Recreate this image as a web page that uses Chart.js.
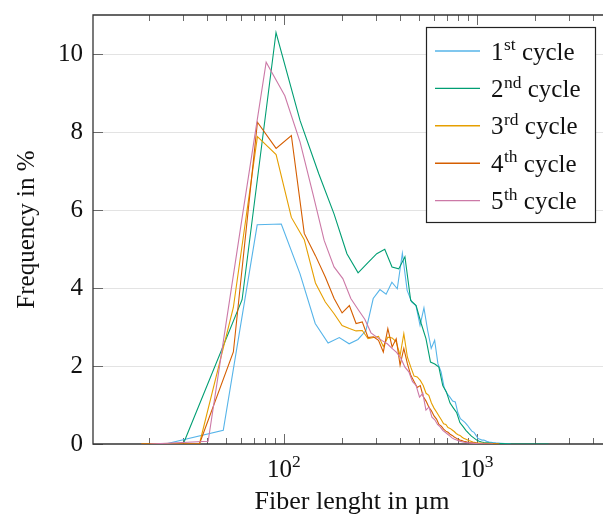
<!DOCTYPE html>
<html><head><meta charset="utf-8">
<script src="https://cdn.jsdelivr.net/npm/chart.js@4.4.1/dist/chart.umd.min.js"></script>
<style>html,body{margin:0;padding:0;background:#fff;overflow:hidden;width:603px;height:518px}</style>
</head><body>
<canvas id="c" width="611" height="518"></canvas>
<script>
// ---- data (fiber length in µm, frequency in %) ----
const seriesNames = ['1', '2', '3', '4', '5'];
const seriesSups = ['st', 'nd', 'rd', 'th', 'th'];
const lengths1 = [24.2,48.4,72.6,96.8,121,145.2,169.4,193.6,217.8,242,266.2,290.4,314.6,338.8,363,387.2,411.4,435.6,459.8,484,508.2,532.4,556.6,580.8,605,629.2,653.4,677.6,701.8,726,750.2,774.4,798.6,822.8,847,871.2,895.4,919.6,943.8,968,992.2,1016.4,1040.6,1064.8,1089,1113.2,1137.4,1161.6,1210,1258.4,1331,1403.6,1500.4];
const freq1 = [0,0.35,5.62,5.64,4.37,3.09,2.59,2.73,2.57,2.68,2.91,3.73,3.96,3.84,4.15,3.98,4.89,3.94,3.64,3.55,3.04,3.49,2.91,2.45,2.66,2.06,1.85,1.45,1.29,1.2,1.1,1.08,0.8,0.65,0.6,0.55,0.48,0.4,0.33,0.3,0.22,0.14,0.12,0.1,0.1,0.08,0.06,0.05,0.04,0.03,0.02,0.01,0];
const lengths2 = [30.3,60.6,90.9,121.2,151.5,181.8,212.1,242.4,272.7,303,333.3,363.6,393.9,424.2,454.5,484.8,515.1,545.4,575.7,606,636.3,666.6,696.9,727.2,757.5,787.8,818.1,848.4,878.7,909,939.3,969.6,999.9,1030.2,1060.5,1090.8,1151.4,1212,1363.5,1515,2363.4];
const freq2 = [0.05,3.7,10.55,8.29,6.93,5.9,4.88,4.39,4.65,4.88,4.99,4.54,4.49,4.8,3.68,3.55,3.09,2.7,2.1,2.05,1.97,1.5,1.33,1.05,0.92,0.8,0.55,0.45,0.35,0.27,0.2,0.15,0.1,0.07,0.05,0.04,0.03,0.02,0.01,0,0];
const lengths34 = [18.2,36.4,54.6,72.8,91,109.2,127.4,145.6,163.8,182,200.2,218.4,236.6,254.8,273,291.2,309.4,327.6,345.8,364,382.2,400.4,418.6,436.8,455,473.2,491.4,509.6,527.8,546,564.2,582.4,600.6,618.8,637,655.2,673.4,691.6,709.8,728,746.2,764.4,782.6,800.8,819,837.2,855.4,873.6,910,955.5,1001,1092,1201.2,1310.4];
const freq3 = [0,0,3.5,7.88,7.42,5.81,5.24,4.13,3.64,3.34,3.04,2.96,2.9,2.91,2.7,2.73,2.76,2.5,2.74,2.72,2.62,2.27,2.83,2.23,1.97,1.74,1.72,1.63,1.5,1.3,1.25,1.05,0.92,0.82,0.72,0.62,0.52,0.5,0.42,0.4,0.36,0.32,0.27,0.24,0.22,0.18,0.15,0.13,0.09,0.05,0.03,0.02,0.01,0];
const freq4 = [0,0,2.36,8.25,7.58,7.91,5.4,4.83,4.28,3.73,3.36,3.55,3.09,3.13,2.73,2.75,2.66,2.36,2.96,2.49,2.7,2.02,2.45,2.06,1.76,1.6,1.45,1.5,1.22,1.1,0.95,0.85,0.72,0.64,0.5,0.46,0.38,0.33,0.3,0.25,0.22,0.18,0.15,0.12,0.1,0.09,0.07,0.06,0.04,0.03,0.02,0.01,0,0];
const lengths5 = [20.2,40.4,60.6,80.8,101,121.2,141.4,161.6,181.8,202,222.2,242.4,262.6,282.8,303,323.2,343.4,363.6,383.8,404,424.2,444.4,464.6,484.8,505,525.2,545.4,565.6,585.8,606,626.2,646.4,666.6,686.8,707,727.2,747.4,767.6,787.8,808,848.4,909,1010,1111,1212];
const freq5 = [0,0.07,5.8,9.79,8.93,7.74,6.41,5.22,4.54,4.24,3.73,3.45,3.2,2.85,2.74,2.65,2.57,2.45,2.35,2.2,1.97,1.85,1.6,1.5,1.2,1.3,0.87,0.95,0.69,0.62,0.5,0.44,0.35,0.3,0.25,0.2,0.15,0.12,0.1,0.08,0.05,0.03,0.01,0,0];
const xTickValues = [20,30,40,50,60,70,80,90,100,200,300,400,500,600,700,800,900,1000,2000,3000,4000];
const xMajorTicks = [100, 1000];
const xTickExponents = {100: '2', 1000: '3'};
const yTickValues = [0,2,4,6,8,10];

// ---- styles ----
const colors = ['#56B4E9', '#009E73', '#E69F00', '#D55E00', '#CC79A7'];
const FONT = 'Liberation Serif';
const FS = 25;
const lengthSets = [lengths1, lengths2, lengths34, lengths34, lengths5];
const freqSets = [freq1, freq2, freq3, freq4, freq5];

const datasets = freqSets.map((f, i) => ({
  label: seriesNames[i] + seriesSups[i] + ' cycle',
  data: f.map((v, j) => ({x: lengthSets[i][j], y: v})),
  borderColor: colors[i],
  backgroundColor: colors[i],
  borderWidth: 1.1,
  pointRadius: 0,
  tension: 0,
  fill: false,
  order: 5 - i
}));

const framePlugin = {
  id: 'frame',
  beforeDatasetsDraw(chart) {
    const {ctx, chartArea: a, scales: {x, y}} = chart;
    ctx.save();
    ctx.strokeStyle = '#6a6a6a';
    ctx.lineWidth = 1;
    x.ticks.forEach(t => {
      const px = Math.round(x.getPixelForValue(t.value)) + 0.5;
      const len = xMajorTicks.includes(t.value) ? 10 : 6;
      ctx.beginPath();
      ctx.moveTo(px, a.bottom); ctx.lineTo(px, a.bottom - len);
      ctx.moveTo(px, a.top); ctx.lineTo(px, a.top + len);
      ctx.stroke();
    });
    y.ticks.forEach(t => {
      const py = Math.round(y.getPixelForValue(t.value)) + 0.5;
      ctx.beginPath();
      ctx.moveTo(a.left, py); ctx.lineTo(a.left + 10, py);
      ctx.stroke();
    });
    ctx.strokeStyle = '#333';
    ctx.lineWidth = 1.3;
    ctx.beginPath();
    ctx.moveTo(a.right, a.top); ctx.lineTo(a.left, a.top);
    ctx.lineTo(a.left, a.bottom); ctx.lineTo(a.right, a.bottom);
    ctx.stroke();
    ctx.fillStyle = '#111';
    ctx.textBaseline = 'alphabetic';
    ctx.textAlign = 'left';
    xMajorTicks.forEach(v => {
      const px = x.getPixelForValue(v);
      ctx.font = FS + 'px "' + FONT + '"';
      const w1 = ctx.measureText('10').width;
      ctx.font = '17.5px "' + FONT + '"';
      const w2 = ctx.measureText(xTickExponents[v]).width;
      const left = px - (w1 + w2) / 2;
      ctx.font = FS + 'px "' + FONT + '"';
      ctx.fillText('10', left, 477);
      ctx.font = '17.5px "' + FONT + '"';
      ctx.fillText(xTickExponents[v], left + w1, 467);
    });
    ctx.restore();
  },
  afterDatasetsDraw(chart) {
    const {ctx} = chart;
    ctx.save();
    const bx = 426.5, by = 27.5, bw = 169, bh = 195;
    ctx.fillStyle = '#fff';
    ctx.fillRect(bx, by, bw, bh);
    ctx.strokeStyle = '#222';
    ctx.lineWidth = 1.2;
    ctx.strokeRect(bx, by, bw, bh);
    for (let i = 0; i < 5; i++) {
      const ly = 51 + i * 37.4;
      ctx.strokeStyle = colors[i];
      ctx.lineWidth = 1.4;
      ctx.beginPath(); ctx.moveTo(435, ly); ctx.lineTo(480, ly); ctx.stroke();
      ctx.fillStyle = '#111';
      ctx.textBaseline = 'alphabetic';
      ctx.textAlign = 'left';
      let tx = 491;
      const base = ly + 8.6;
      ctx.font = FS + 'px "' + FONT + '"';
      ctx.fillText(seriesNames[i], tx, base);
      tx += ctx.measureText(seriesNames[i]).width;
      ctx.font = '17.5px "' + FONT + '"';
      ctx.fillText(seriesSups[i], tx + 0.5, base - 9.5);
      tx += ctx.measureText(seriesSups[i]).width + 0.5;
      ctx.font = FS + 'px "' + FONT + '"';
      ctx.fillText(' cycle', tx, base);
    }
    ctx.restore();
  }
};

new Chart(document.getElementById('c'), {
  type: 'line',
  data: {datasets},
  options: {
    responsive: false,
    animation: false,
    events: [],
    layout: {padding: {top: 15, right: 0, left: 0, bottom: 0}},
    plugins: {legend: {display: false}, tooltip: {enabled: false}},
    scales: {
      x: {
        type: 'logarithmic',
        min: 10.205, max: 4977,
        afterBuildTicks: s => { s.ticks = xTickValues.map(v => ({value: v, major: xMajorTicks.includes(v)})); },
        afterFit: s => { s.height = 74; s.paddingLeft = 0; s.paddingRight = 0; },
        ticks: {autoSkip: false, maxRotation: 0, minRotation: 0, padding: 10, color: '#111',
          font: {family: FONT, size: FS},
          callback: () => ''},
        grid: {display: false, drawTicks: false},
        border: {display: false},
        title: {display: true, text: 'Fiber lenght in µm', color: '#111', font: {family: FONT, size: 26}, padding: {top: 0, bottom: 0}}
      },
      y: {
        min: 0, max: 11,
        afterBuildTicks: s => { s.ticks = yTickValues.map(v => ({value: v})); },
        afterFit: s => { s.width = 93; s.paddingTop = 0; s.paddingBottom = 0; },
        ticks: {padding: 10, color: '#111', font: {family: FONT, size: FS}},
        grid: {drawTicks: false, lineWidth: 1, color: c => (c.tick && c.tick.value === 0) ? 'rgba(0,0,0,0)' : '#e3e3e3'},
        border: {display: false},
        title: {display: true, text: 'Frequency in %', color: '#111', font: {family: FONT, size: FS}, padding: {top: 12, bottom: 0}}
      }
    }
  },
  plugins: [framePlugin]
});
</script>
</body></html>
